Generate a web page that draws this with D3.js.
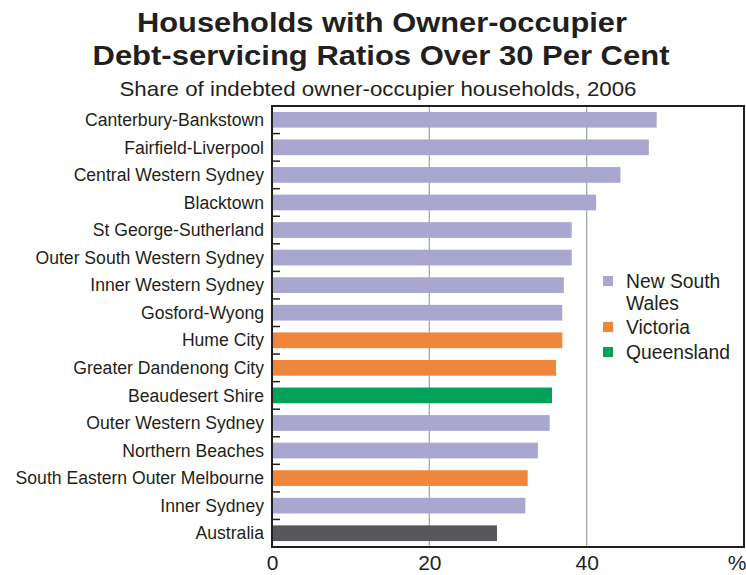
<!DOCTYPE html>
<html><head><meta charset="utf-8">
<script src="https://cdn.jsdelivr.net/npm/d3@7"></script>
<style>body{margin:0;background:#fff}svg{display:block}text{font-family:"Liberation Sans",Arial,sans-serif;fill:#231f20}</style>
</head><body><svg id="c" width="746" height="575"></svg>
<script>
const categories = ["Canterbury-Bankstown","Fairfield-Liverpool","Central Western Sydney","Blacktown","St George-Sutherland","Outer South Western Sydney","Inner Western Sydney","Gosford-Wyong","Hume City","Greater Dandenong City","Beaudesert Shire","Outer Western Sydney","Northern Beaches","South Eastern Outer Melbourne","Inner Sydney","Australia"];
const values = [48.9,47.9,44.3,41.2,38.1,38.1,37.1,36.9,36.9,36.1,35.6,35.3,33.8,32.5,32.2,28.6];
const states = ["NSW","NSW","NSW","NSW","NSW","NSW","NSW","NSW","VIC","VIC","QLD","NSW","NSW","VIC","NSW","AUS"];
const legendKeys = ["NSW","VIC","QLD"];
const legendLabels = [["New South","Wales"],["Victoria"],["Queensland"]];
const xTicks = [0,20,40];
const colors = {NSW:"#a9a6cf",VIC:"#f0863c",QLD:"#00a25a",AUS:"#58585a"};

const svg = d3.select("#c");
const L=272,R=744,T=106,B=547;
const x = d3.scaleLinear().domain([0,60]).range([L,R]);
const y = d3.scaleBand().domain(categories).range([T,B]).paddingInner(0.43).paddingOuter(0.215);

svg.append("text").attr("x",382).attr("y",32).attr("text-anchor","middle").attr("font-size",27).attr("font-weight","bold")
 .attr("textLength",490).attr("lengthAdjust","spacingAndGlyphs").text("Households with Owner-occupier");
svg.append("text").attr("x",381).attr("y",65).attr("text-anchor","middle").attr("font-size",27).attr("font-weight","bold")
 .attr("textLength",577).attr("lengthAdjust","spacingAndGlyphs").text("Debt-servicing Ratios Over 30 Per Cent");
svg.append("text").attr("x",378).attr("y",96).attr("text-anchor","middle").attr("font-size",21)
 .attr("textLength",517).attr("lengthAdjust","spacingAndGlyphs").text("Share of indebted owner-occupier households, 2006");

// gridlines
svg.append("g").selectAll("line").data(xTicks.filter(d=>d>0)).join("line")
 .attr("x1",d=>x(d)).attr("x2",d=>x(d)).attr("y1",T).attr("y2",B)
 .attr("stroke","#a3a9b2").attr("stroke-width",1.3);

// bars
svg.append("g").selectAll("rect").data(categories).join("rect")
 .attr("x",x(0)).attr("y",d=>y(d)).attr("height",y.bandwidth())
 .attr("width",(d,i)=>x(values[i])-x(0)).attr("fill",(d,i)=>colors[states[i]]);

// frame
svg.append("rect").attr("x",L).attr("y",T).attr("width",R-L).attr("height",B-T).attr("fill","none").attr("stroke","#231f20").attr("stroke-width",2);

// category ticks at band boundaries
const bounds = d3.range(1,categories.length).map(i=>T+i*(B-T)/categories.length);
svg.append("g").selectAll("line").data(bounds).join("line")
 .attr("x1",L).attr("x2",L+8).attr("y1",d=>d).attr("y2",d=>d).attr("stroke","#231f20").attr("stroke-width",1.5);

// category labels
svg.append("g").selectAll("text").data(categories).join("text")
 .attr("x",264).attr("y",d=>y(d)+y.bandwidth()/2).attr("dy","0.35em")
 .attr("text-anchor","end").attr("font-size",17.6).text(d=>d);

// x axis labels
const xa = svg.append("g").attr("transform",`translate(0,${B})`).call(d3.axisBottom(x).tickValues(xTicks).tickSize(0).tickPadding(8));
xa.select(".domain").remove();
xa.selectAll("text").attr("font-size",21).attr("font-family","'Liberation Sans',Arial,sans-serif").attr("fill","#231f20");
svg.append("text").attr("x",737).attr("y",570).attr("text-anchor","middle").attr("font-size",21).text("%");

// legend
const lg = svg.append("g");
const legendY = [288,334,359];
legendKeys.forEach((k,i)=>{
  const ly = legendY[i];
  lg.append("rect").attr("x",603).attr("y",ly-12).attr("width",10).attr("height",10).attr("fill",colors[k]);
  legendLabels[i].forEach((t,j)=>{
    lg.append("text").attr("x",626).attr("y",ly+j*22).attr("font-size",19.3).text(t);
  });
});
</script></body></html>
